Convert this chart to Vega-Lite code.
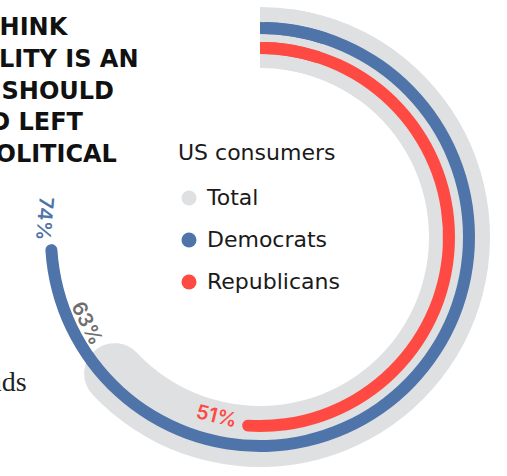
{
  "$schema": "https://vega.github.io/schema/vega-lite/v6.json",
  "width": 520,
  "height": 474,
  "padding": 0,
  "autosize": {"type": "none"},
  "background": "white",
  "title": {
    "text": ["MAN WHO THINK", "SUSTAINABILITY IS AN", "ISSUE THAT SHOULD", "FEARED AND LEFT", "IS TO THE POLITICAL"],
    "subtitle": ["onto their brands"],
    "anchor": "start",
    "frame": "group",
    "orient": "top",
    "baseline": "top",
    "dx": -163,
    "dy": 401,
    "font": "DejaVu Sans",
    "fontSize": 24,
    "fontWeight": "bold",
    "color": "#111111",
    "lineHeight": 31.7,
    "subtitleFont": "Liberation Serif",
    "subtitleFontSize": 28,
    "subtitleColor": "#222222",
    "subtitlePadding": 202
  },
  "data": {
    "values": [
      {"group": "Total", "value": 0.63},
      {"group": "Democrats", "value": 0.74},
      {"group": "Republicans", "value": 0.51}
    ]
  },
  "config": {
    "view": {"stroke": null},
    "legend": {
      "orient": "none",
      "legendX": 178,
      "legendY": 143,
      "titleFont": "DejaVu Sans",
      "titleFontSize": 22,
      "titleFontWeight": "normal",
      "titleColor": "#1a1a1a",
      "titlePadding": 22,
      "labelFont": "DejaVu Sans",
      "labelFontSize": 22,
      "labelColor": "#1a1a1a",
      "symbolType": "circle",
      "symbolSize": 225,
      "symbolStrokeWidth": 0,
      "rowPadding": 20,
      "labelOffset": 7
    }
  },
  "layer": [
    {
      "transform": [{"filter": "datum.group === 'Total'"}],
      "mark": {"type": "arc", "radius": 230, "radius2": 169, "cornerRadius": 30.5, "thetaOffset": 0.153},
      "encoding": {
        "theta": {"field": "value", "type": "quantitative", "stack": null, "scale": {"domain": [0, 1], "range": [0, 6.283185307]}},
        "theta2": {"datum": 0},
        "color": {"field": "group", "type": "nominal", "title": "US consumers",
          "scale": {"domain": ["Total", "Democrats", "Republicans"], "range": ["#dfe0e2", "#4f74a9", "#fe4a42"]}}
      }
    },
    {
      "transform": [{"filter": "datum.group === 'Total'"}],
      "mark": {"type": "arc", "radius": 230, "radius2": 169, "color": "#dfe0e2"},
      "encoding": {
        "theta": {"datum": 0, "type": "quantitative"},
        "theta2": {"datum": 0.1}
      }
    },
    {
      "transform": [{"filter": "datum.group === 'Democrats'"}],
      "mark": {"type": "arc", "radius": 215, "radius2": 203, "cornerRadius": 6, "thetaOffset": 0.0287},
      "encoding": {
        "theta": {"field": "value", "type": "quantitative", "stack": null},
        "theta2": {"datum": 0},
        "color": {"field": "group", "type": "nominal"}
      }
    },
    {
      "transform": [{"filter": "datum.group === 'Democrats'"}],
      "mark": {"type": "arc", "radius": 215, "radius2": 203, "color": "#4f74a9"},
      "encoding": {
        "theta": {"datum": 0, "type": "quantitative"},
        "theta2": {"datum": 0.05}
      }
    },
    {
      "transform": [{"filter": "datum.group === 'Republicans'"}],
      "mark": {"type": "arc", "radius": 195, "radius2": 183, "cornerRadius": 6, "thetaOffset": 0.0317},
      "encoding": {
        "theta": {"field": "value", "type": "quantitative", "stack": null},
        "theta2": {"datum": 0},
        "color": {"field": "group", "type": "nominal"}
      }
    },
    {
      "transform": [{"filter": "datum.group === 'Republicans'"}],
      "mark": {"type": "arc", "radius": 195, "radius2": 183, "color": "#fe4a42"},
      "encoding": {
        "theta": {"datum": 0, "type": "quantitative"},
        "theta2": {"datum": 0.05}
      }
    },
    {
      "transform": [{"filter": "datum.group === 'Democrats'"}],
      "mark": {"type": "text", "radius": 217, "thetaOffset": 0.147, "angle": 95, "font": "Inter", "fontSize": 20, "fontWeight": 600, "color": "#4f74a9", "align": "center", "baseline": "middle"},
      "encoding": {
        "theta": {"field": "value", "type": "quantitative", "stack": null},
        "text": {"field": "value", "type": "quantitative", "format": ".0%"}
      }
    },
    {
      "transform": [{"filter": "datum.group === 'Total'"}],
      "mark": {"type": "text", "radius": 194, "thetaOffset": 0.291, "angle": 63.5, "font": "Inter", "fontSize": 20, "fontWeight": 600, "color": "#6e6e6e", "align": "center", "baseline": "middle"},
      "encoding": {
        "theta": {"field": "value", "type": "quantitative", "stack": null},
        "text": {"field": "value", "type": "quantitative", "format": ".0%"}
      }
    },
    {
      "transform": [{"filter": "datum.group === 'Republicans'"}],
      "mark": {"type": "text", "radius": 185, "thetaOffset": 0.1745, "angle": 13.6, "font": "Inter", "fontSize": 20, "fontWeight": 600, "color": "#fe4a42", "align": "center", "baseline": "middle"},
      "encoding": {
        "theta": {"field": "value", "type": "quantitative", "stack": null},
        "text": {"field": "value", "type": "quantitative", "format": ".0%"}
      }
    }
  ]
}
